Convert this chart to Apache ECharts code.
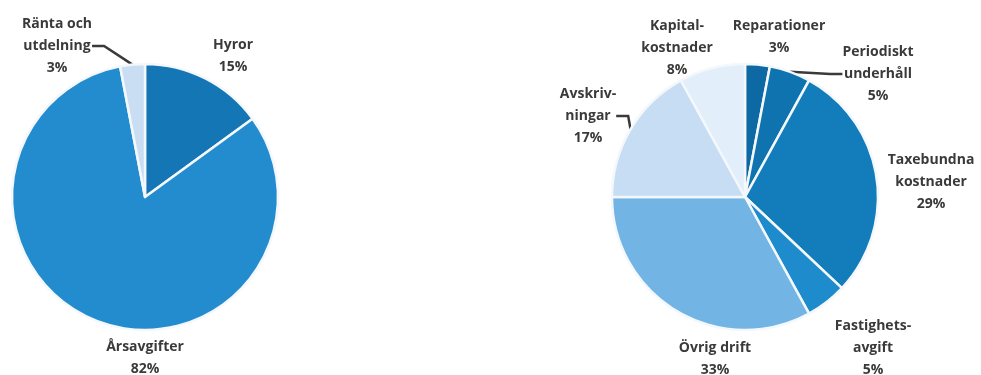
<!DOCTYPE html>
<html>
<head>
<meta charset="utf-8">
<script src="https://cdn.jsdelivr.net/npm/echarts@6/dist/echarts.min.js"></script>
<style>
  html, body { margin: 0; padding: 0; background: #fff; }
  #chart { width: 981px; height: 375px; }
</style>
</head>
<body>
<div id="chart"></div>
<script>
// vänster diagram - intäkter
const incomeNames = ['Hyror', 'Årsavgifter', 'Ränta och\nutdelning']
const incomeValues = [15, 82, 3]
const incomeColors = ['#1476b5', '#238cce', '#c9def2']

// höger diagram - kostnader
const costNames = ['Reparationer', 'Periodiskt\nunderhåll', 'Taxebundna\nkostnader', 'Fastighets-\navgift', 'Övrig drift', 'Avskriv-\nningar', 'Kapital-\nkostnader']
const costValues = [3, 5, 29, 5, 33, 17, 8]
const costColors = ['#0d69a4', '#0f73af', '#137dbc', '#1e8bcc', '#72b4e4', '#c6ddf3', '#e2eef9']

// etikettpositioner (mitten)
const incomeLabelPos = [[233, 56], [145, 358], [57, 46]]
const costLabelPos = [[779, 37], [878, 74], [931, 182], [873, 348], [715, 359], [588, 116], [677, 48]]
const withLine = ['Ränta och\nutdelning', 'Periodiskt\nunderhåll', 'Avskriv-\nningar']

const chart = echarts.init(document.getElementById('chart'))

function buildData(names, values, colors) {
  return names.map((n, i) => ({
    name: n,
    value: values[i],
    itemStyle: { color: colors[i] },
    labelLine: { show: withLine.indexOf(n) >= 0 }
  }))
}

function pie(center, names, values, colors, pos) {
  return {
    type: 'pie',
    center: center,
    radius: 133,
    startAngle: 90,
    clockwise: true,
    animation: false,
    silent: true,
    data: buildData(names, values, colors),
    itemStyle: { borderColor: '#f4f8fc', borderWidth: 2.5 },
    label: {
      show: true,
      position: 'outside',
      formatter: p => p.name + '\n' + p.value + '%',
      color: '#3a3a3a',
      fontFamily: 'Open Sans',
      fontWeight: 'bold',
      fontSize: 14,
      lineHeight: 22,
      align: 'center',
      overflow: 'none'
    },
    labelLine: {
      show: false,
      length: 8,
      length2: 12,
      lineStyle: { color: '#3a3a3a', width: 2.5 }
    },
    labelLayout: params => ({
      x: pos[params.dataIndex][0],
      y: pos[params.dataIndex][1],
      align: 'center',
      verticalAlign: 'middle'
    })
  }
}

chart.setOption({
  backgroundColor: '#fff',
  series: [
    pie([145, 197], incomeNames, incomeValues, incomeColors, incomeLabelPos),
    pie([745, 197], costNames, costValues, costColors, costLabelPos)
  ]
})
</script>
</body>
</html>
